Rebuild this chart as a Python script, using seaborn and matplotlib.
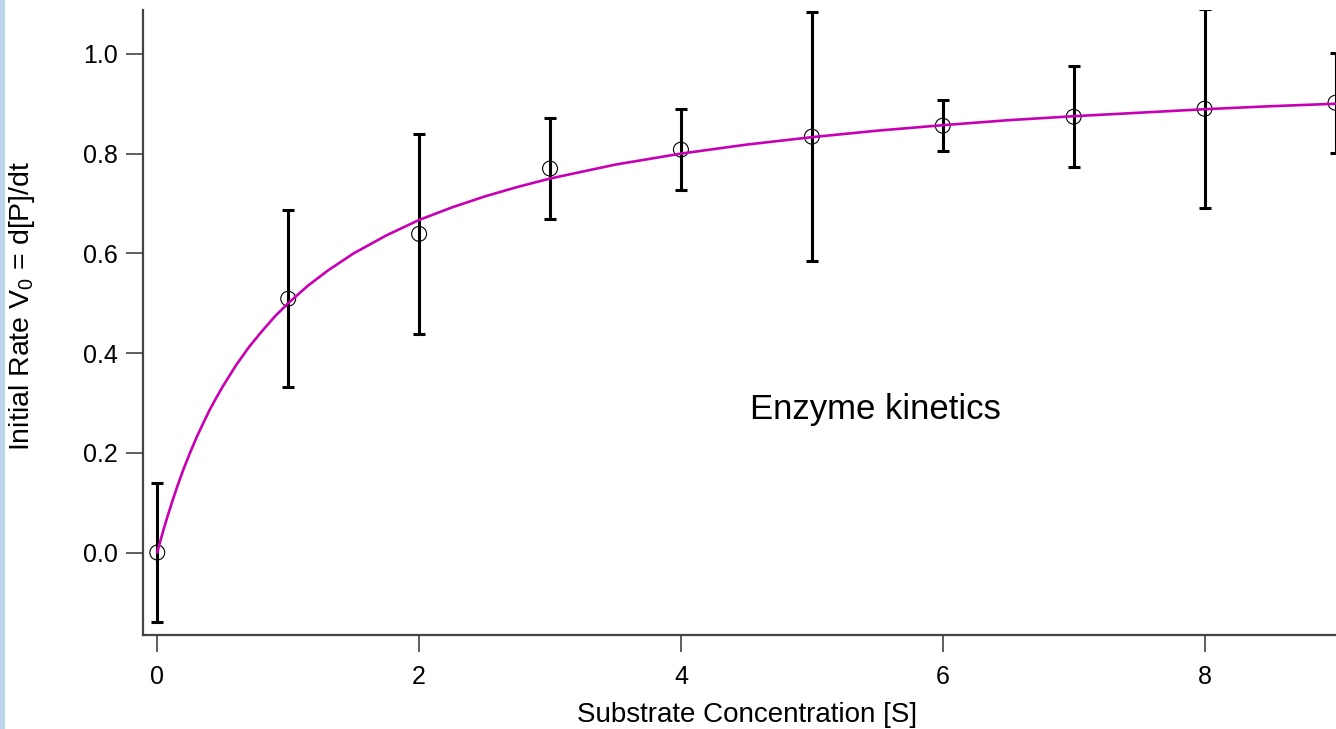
import matplotlib
matplotlib.use("Agg")
import matplotlib.pyplot as plt
import seaborn as sns
import pandas as pd
from matplotlib.patches import Rectangle

# ---- data ----
substrate = [0, 1, 2, 3, 4, 5, 6, 7, 8, 9]
rate = [0.0, 0.509, 0.639, 0.770, 0.808, 0.834, 0.856, 0.874, 0.890, 0.902]
rate_err = [0.14, 0.178, 0.200, 0.102, 0.081, 0.250, 0.051, 0.101, 0.200, 0.100]

fit_x = [0, 0.02, 0.05, 0.08, 0.12, 0.16, 0.2, 0.25, 0.3, 0.35, 0.4, 0.45, 0.5,
         0.6, 0.7, 0.8, 0.9, 1.0, 1.15, 1.3, 1.5, 1.75, 2.0, 2.25, 2.5, 2.75,
         3.0, 3.5, 4.0, 4.5, 5.0, 5.5, 6.0, 6.5, 7.0, 7.5, 8.0, 8.5, 9.0]
fit_y = [0.0, 0.020, 0.048, 0.074, 0.107, 0.138, 0.167, 0.200, 0.231, 0.259,
         0.286, 0.310, 0.333, 0.375, 0.412, 0.444, 0.474, 0.500, 0.535, 0.565,
         0.600, 0.636, 0.667, 0.692, 0.714, 0.733, 0.750, 0.778, 0.800, 0.818,
         0.833, 0.846, 0.857, 0.867, 0.875, 0.882, 0.889, 0.895, 0.900]

xticks = [0, 2, 4, 6, 8]
yticks = [0.0, 0.2, 0.4, 0.6, 0.8, 1.0]

title_text = "Enzyme kinetics"
xlabel = "Substrate Concentration [S]"
ylabel = r"Initial Rate V$_0$ = d[P]/dt"

# ---- styling ----
sns.set_style("white")
plt.rcParams["font.family"] = ["Liberation Sans", "DejaVu Sans"]
plt.rcParams["mathtext.fontset"] = "custom"
plt.rcParams["mathtext.rm"] = "Liberation Sans"
plt.rcParams["mathtext.it"] = "Liberation Sans"

fig = plt.figure(figsize=(13.36, 7.29), dpi=100)
fig.patch.set_facecolor("white")
fig.patches.append(Rectangle((0, 0), 5 / 1336, 1, transform=fig.transFigure,
                             facecolor="#bfd5ef", edgecolor="none", zorder=0))

ax = fig.add_axes([143 / 1336, (729 - 634.5) / 729, (1336 - 143) / 1336, (634.5 - 10) / 729])

df_pts = pd.DataFrame({"S": substrate, "V": rate})
df_fit = pd.DataFrame({"S": fit_x, "V": fit_y})

ax.errorbar(substrate, rate, yerr=rate_err, fmt="none", ecolor="black",
            elinewidth=2.2, capsize=4.5, capthick=2.2, zorder=2)
sns.scatterplot(data=df_pts, x="S", y="V", ax=ax, marker="o", s=115,
                facecolors="none", edgecolor="black", linewidth=0.8, zorder=3)
sns.lineplot(data=df_fit, x="S", y="V", ax=ax, color="#c800b4", linewidth=1.9,
             zorder=4)

ax.set_xlim(-0.1092, 9.0038)
ax.set_ylim(-0.1644, 1.088)
ax.set_xticks(xticks)
ax.set_xticklabels([str(t) for t in xticks])
ax.set_yticks(yticks)
ax.set_yticklabels([f"{t:.1f}" for t in yticks])

for side in ["top", "right"]:
    ax.spines[side].set_visible(False)
for side in ["left", "bottom"]:
    ax.spines[side].set_color("#444444")
    ax.spines[side].set_linewidth(1.6)

ax.tick_params(axis="both", direction="out", length=12, width=1.2,
               color="#444444", labelsize=18, labelcolor="black")
ax.tick_params(axis="x", bottom=True, pad=10)
ax.tick_params(axis="y", left=True, pad=6)

ax.set_xlabel(xlabel, fontsize=20, color="black")
ax.set_ylabel(ylabel, fontsize=20.5, color="black")
ax.xaxis.set_label_coords((747 - 143) / (1336 - 143), -(715 - 634.5) / (634.5 - 10))
ax.yaxis.set_label_coords(-(143 - 22) / (1336 - 143), (634.5 - 306) / (634.5 - 10))
ax.xaxis.label.set_va("center")
ax.yaxis.label.set_va("center")

ax.text(5.485, 0.286, title_text, fontsize=25, ha="center", va="center", color="black")

fig.savefig("out.png", dpi=100, facecolor="white")
